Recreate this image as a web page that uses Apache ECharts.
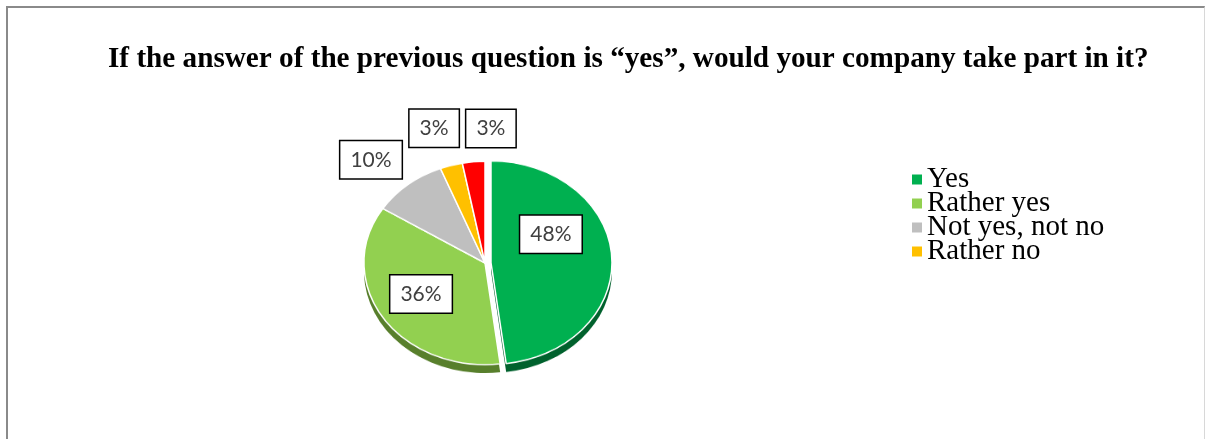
<!DOCTYPE html>
<html>
<head>
<meta charset="utf-8">
<script src="https://cdn.jsdelivr.net/npm/echarts@6/dist/echarts.min.js"></script>
<style>
html,body{margin:0;padding:0;background:#fff;overflow:hidden;}
#frame{position:absolute;left:6px;top:6px;width:1199px;height:440px;border-top:2px solid #8a8a8a;border-left:2px solid #8a8a8a;border-right:1px solid #d8d8d8;box-sizing:border-box;}
#pie{position:absolute;left:0;top:0;width:1208px;height:439px;transform:scaleY(0.84);transform-origin:485px 263px;}
#chart{position:absolute;left:0;top:0;width:1208px;height:439px;}
</style>
</head>
<body>
<div id="frame"></div>
<div id="pie"></div>
<div id="chart"></div>
<script>
const titleText = 'If the answer of the previous question is \u201Cyes\u201D, would your company take part in it?';
const categories = ['Yes', 'Rather yes', 'Not yes, not no', 'Rather no', 'No'];
const values = [48, 36, 10, 3, 3];
const legendItems = ['Yes', 'Rather yes', 'Not yes, not no', 'Rather no'];
const colors = ['#00B050', '#92D050', '#BFBFBF', '#FFC000', '#FF0000'];
const shadeColors = ['#00612D', '#587F2C', '#8A8A8A', '#B08500', '#AD0000'];
const insideLabels = ['Yes', 'Rather yes'];
// label nudges (style only): [dx, dy] per slice
const labelNudges = [[8, -25], [-15, 0], [7, 0], [16, -6], [48, -1]];

const center = [485, 263];

// --- slices (drawn in a vertically squashed layer to give the tilted pie look)
const pieChart = echarts.init(document.getElementById('pie'), null, {renderer: 'canvas'});
pieChart.setOption({
  animation: false,
  series: [
    {
      type: 'pie',
      z: 3,
      center: center,
      radius: 121,
      startAngle: 90,
      selectedMode: 'single',
      selectedOffset: 6,
      silent: true,
      label: {show: false},
      labelLine: {show: false},
      itemStyle: {borderColor: '#ffffff', borderWidth: 1.5},
      data: categories.map((c, i) => ({name: c, value: values[i], selected: i === 0, itemStyle: {color: colors[i]}}))
    },
    {
      type: 'pie',
      z: 1,
      center: [center[0], center[1] + 10],
      radius: 121,
      startAngle: 90,
      selectedMode: 'single',
      selectedOffset: 6,
      silent: true,
      label: {show: false},
      labelLine: {show: false},
      data: categories.map((c, i) => ({name: c, value: values[i], selected: i === 0, itemStyle: {color: shadeColors[i]}}))
    }
  ]
});

// --- title, legend and labels
const chart = echarts.init(document.getElementById('chart'), null, {renderer: 'canvas'});
chart.setOption({
  animation: false,
  title: {
    text: titleText,
    left: 103,
    top: 40,
    textStyle: {fontFamily: 'Liberation Serif', fontWeight: 'bold', fontSize: 29.2, color: '#000'}
  },
  legend: {
    data: legendItems.map(n => ({name: n, itemStyle: {color: colors[categories.indexOf(n)]}})),
    orient: 'vertical',
    left: 912,
    top: 165,
    icon: 'rect',
    itemWidth: 10,
    itemHeight: 10,
    itemGap: -5,
    padding: 0,
    textStyle: {fontFamily: 'Liberation Serif', fontSize: 29, color: '#000', padding: [0, 0, 0, 0]},
    selectedMode: false
  },
  series: [
    {
      type: 'pie',
      center: center,
      radius: 110,
      startAngle: 90,
      silent: true,
      avoidLabelOverlap: false,
      itemStyle: {color: 'rgba(0,0,0,0)'},
      label: {
        formatter: '{d}%',
        fontFamily: 'Lato',
        fontSize: 21,
        color: '#404040',
        backgroundColor: '#ffffff',
        borderColor: '#000000',
        borderWidth: 1.5,
        padding: [8, 10, 8, 10]
      },
      labelLine: {show: false, length: 24, length2: 0},
      labelLayout: function (p) {
        const n = labelNudges[p.dataIndex];
        return {dx: n[0], dy: n[1], hideOverlap: false};
      },
      data: categories.map((c, i) => ({
        name: c,
        value: values[i],
        label: {position: insideLabels.includes(c) ? 'inside' : 'outside'}
      }))
    }
  ]
});
</script>
</body>
</html>
